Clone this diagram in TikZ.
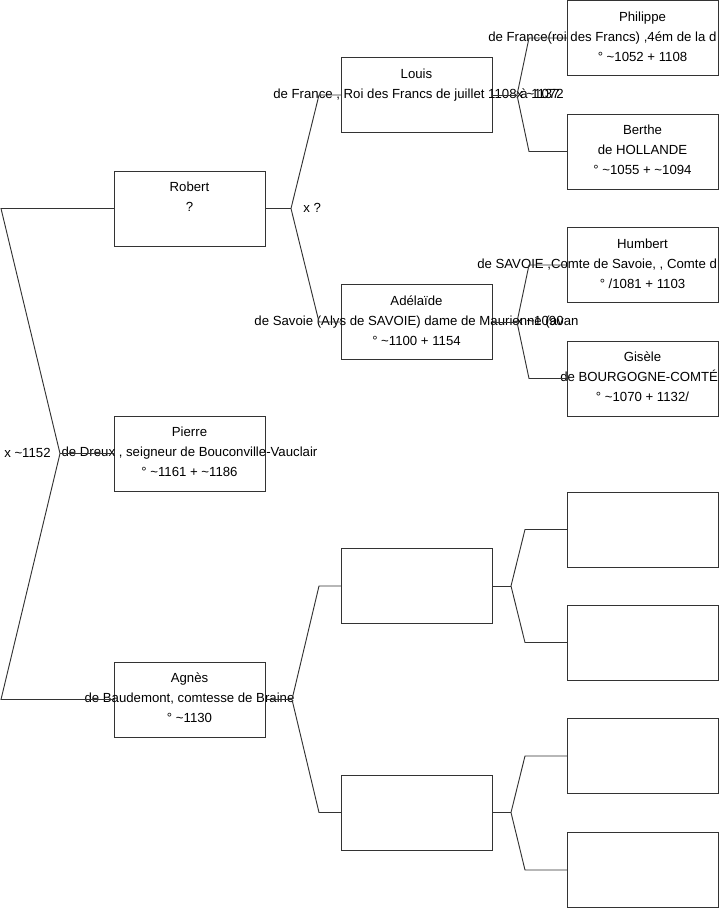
\documentclass[tikz,border=0pt]{standalone}
\usepackage{fontspec}
\setmainfont{Liberation Sans}
\tikzset{
  pbox/.style={draw=black!80, line width=0.7pt, minimum width=113.25pt,
    minimum height=56.25pt, inner sep=0pt, outer sep=0pt},
  link/.style={draw=black!80, line width=0.7pt},
  txt/.style={inner sep=0pt, anchor=base, font=\fontsize{9.9}{12}\selectfont},
  txtl/.style={txt, anchor=base west},
}
\begin{document}
\begin{tikzpicture}[x=0.75pt,y=-0.75pt]
    \useasboundingbox (0,0) rectangle (719,908);
    \clip (0,0) rectangle (719,908);

    % Generation 1
    \node[pbox] (robert) at (189.5,208.5) {};
    \node[pbox] (pierre) at (189.5,453.5) {};
    \node[pbox] (agnes) at (189.5,699.5) {};

    % Generation 2
    \node[pbox] (louis) at (416.5,95) {};
    \node[pbox] (adelaide) at (416.5,322) {};
    \node[pbox] (par3) at (416.5,586) {};
    \node[pbox] (par4) at (416.5,812.5) {};

    % Generation 3
    \node[pbox] (philippe) at (642.5,38) {};
    \node[pbox] (berthe) at (642.5,151.5) {};
    \node[pbox] (humbert) at (642.5,265) {};
    \node[pbox] (gisele) at (642.5,378.5) {};
    \node[pbox] (gp5) at (642.5,529.5) {};
    \node[pbox] (gp6) at (642.5,642.5) {};
    \node[pbox] (gp7) at (642.5,756) {};
    \node[pbox] (gp8) at (642.5,870) {};

    % Robert
    \node[txt] (robertN) at (189.5,191.5) {Robert};
    \node[txt] (robertD) at (189.5,211.5) {?};

    % Pierre
    \node[txt] (pierreN) at (189.5,436.5) {Pierre};
    \node[txt] (pierreD) at (189.5,456.5) {de Dreux , seigneur de Bouconville-Vauclair};
    \node[txt] (pierreY) at (189.5,476.5) {° \textasciitilde1161 + \textasciitilde1186};

    % Agnes
    \node[txt] (agnesN) at (189.5,682.5) {Agnès};
    \node[txt] (agnesD) at (189.5,702.5) {de Baudemont, comtesse de Braine};
    \node[txt] (agnesY) at (189.5,722.5) {° \textasciitilde1130};

    % Louis
    \node[txt] (louisN) at (416.5,78) {Louis};
    \node[txt] (louisD) at (416.5,98) {de France , Roi des Francs de juillet 1108 à 1137};

    % Adelaide
    \node[txt] (adelaideN) at (416.5,305) {Adélaïde};
    \node[txt] (adelaideD) at (416.5,325) {de Savoie (Alys de SAVOIE) dame de Maurienne (avan};
    \node[txt] (adelaideY) at (416.5,345) {° \textasciitilde1100 + 1154};

    % Philippe
    \node[txt] (philippeN) at (642.5,21) {Philippe};
    \node[txtl] (philippeD) at (488,41) {de France(roi des Francs) ,4ém de la d};
    \node[txt] (philippeY) at (642.5,61) {° \textasciitilde1052 + 1108};

    % Berthe
    \node[txt] (bertheN) at (642.5,134.5) {Berthe};
    \node[txt] (bertheD) at (642.5,154.5) {de HOLLANDE};
    \node[txt] (bertheY) at (642.5,174.5) {° \textasciitilde1055 + \textasciitilde1094};

    % Humbert
    \node[txt] (humbertN) at (642.5,248) {Humbert};
    \node[txtl] (humbertD) at (477,268) {de SAVOIE ,Comte de Savoie, , Comte d};
    \node[txt] (humbertY) at (642.5,288) {° /1081 + 1103};

    % Gisele
    \node[txt] (giseleN) at (642.5,361.5) {Gisèle};
    \node[txtl] (giseleD) at (560,381.5) {de BOURGOGNE-COMTÉ};
    \node[txt] (giseleY) at (642.5,401.5) {° \textasciitilde1070 + 1132/};

    % Marriages
    \node[txtl] (mar0) at (4,457) {x \textasciitilde1152};
    \node[txtl] (mar1) at (303,212) {x ?};
    \node[txtl] (mar2) at (516,98) {x \textasciitilde1072};
    \node[txtl] (mar3) at (516,325) {x \textasciitilde1090};

    % Forks
    \coordinate (f0) at (60,453.5);
    \coordinate (f1) at (291,208.5);
    \coordinate (f2) at (292,699.5);
    \coordinate (f3) at (517,95);
    \coordinate (f4) at (517,322);
    \coordinate (f5) at (511,586);
    \coordinate (f6) at (511,812.5);

    % Pierre's parents
    \draw[link] (pierre.west) -- (f0);
    \draw[link] (f0) -- (1,208.5) -- (robert.west);
    \draw[link] (f0) -- (1,699.5) -- (agnes.west);

    % Robert's parents
    \draw[link] (robert.east) -- (f1);
    \draw[link] (f1) -- (319,95) -- (louis.west);
    \draw[link] (f1) -- (319,322) -- (adelaide.west);

    % Agnes's parents
    \draw[link] (agnes.east) -- (f2);
    \draw[link] (f2) -- (319,586) -- (par3.west);
    \draw[link] (f2) -- (319,812.5) -- (par4.west);

    % Louis's parents
    \draw[link] (louis.east) -- (f3);
    \draw[link] (f3) -- (529,38) -- (philippe.west);
    \draw[link] (f3) -- (529,151.5) -- (berthe.west);

    % Adelaide's parents
    \draw[link] (adelaide.east) -- (f4);
    \draw[link] (f4) -- (529,265) -- (humbert.west);
    \draw[link] (f4) -- (529,378.5) -- (gisele.west);

    % Empty branches
    \draw[link] (par3.east) -- (f5);
    \draw[link] (f5) -- (525,529.5) -- (gp5.west);
    \draw[link] (f5) -- (525,642.5) -- (gp6.west);
    \draw[link] (par4.east) -- (f6);
    \draw[link] (f6) -- (525,756) -- (gp7.west);
    \draw[link] (f6) -- (525,870) -- (gp8.west);
\end{tikzpicture}
\end{document}
